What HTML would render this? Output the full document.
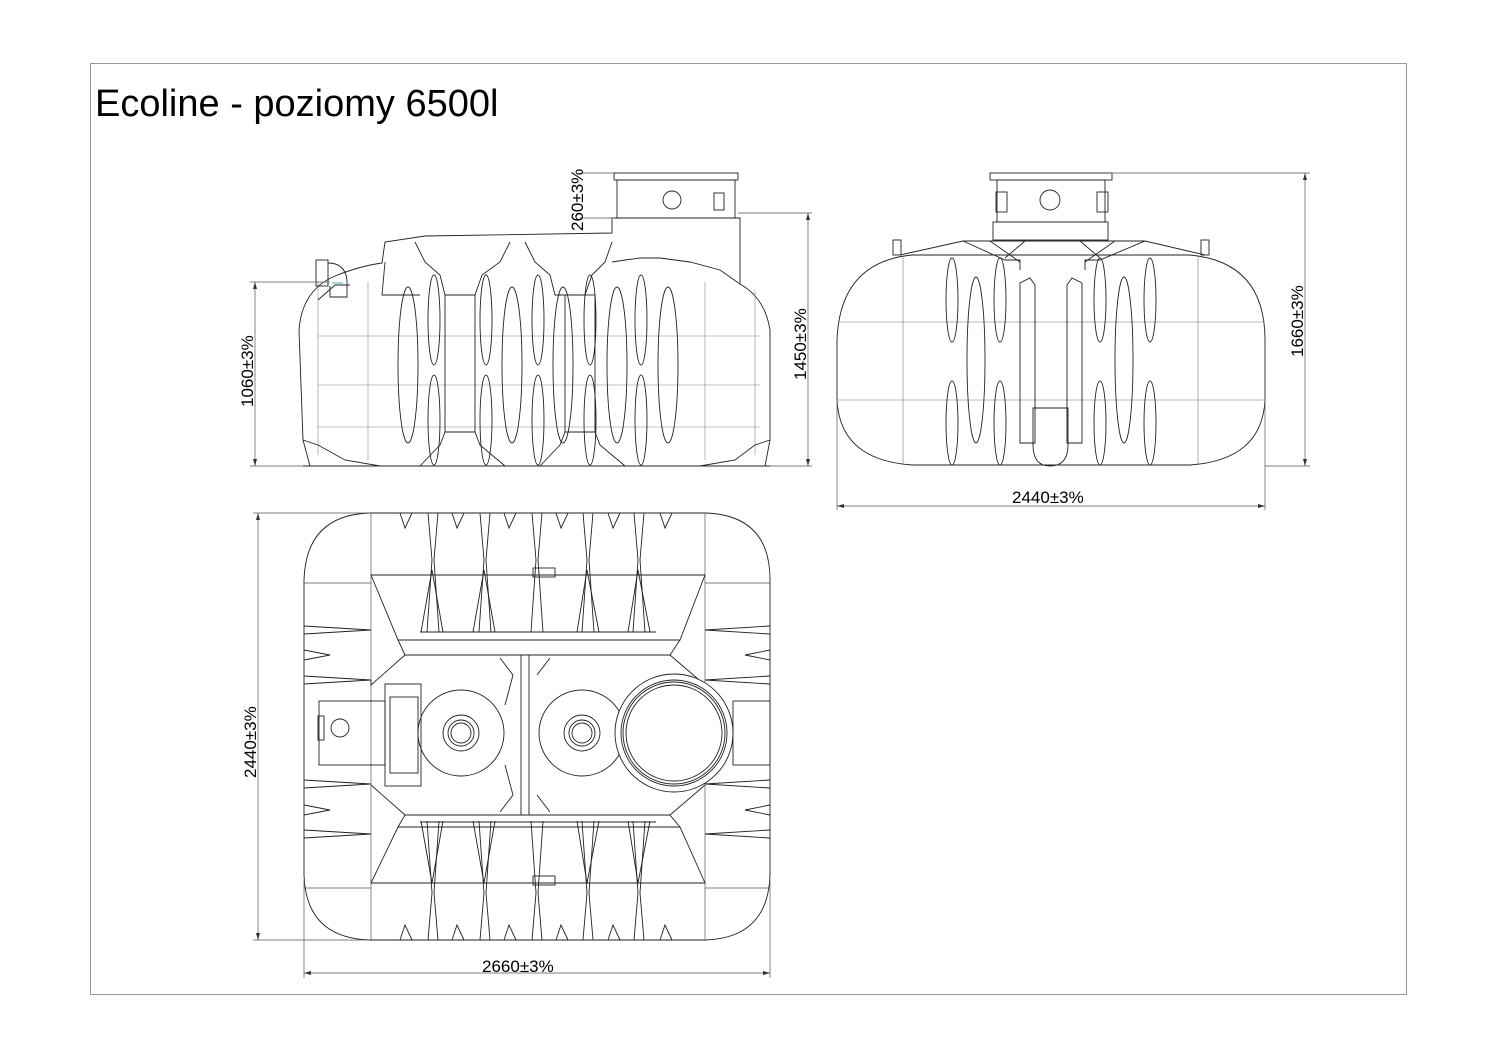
<!DOCTYPE html>
<html><head><meta charset="utf-8"><style>
html,body{margin:0;padding:0;background:#fff}
svg{display:block}
text{font-family:"Liberation Sans",sans-serif;fill:#000}
</style></head><body>
<svg width="1497" height="1058" viewBox="0 0 1497 1058" xmlns="http://www.w3.org/2000/svg">
<rect x="90.5" y="63.5" width="1316" height="931" fill="none" stroke="#999" stroke-width="1"/>
<text x="95" y="116" font-size="38">Ecoline - poziomy 6500l</text>

<g fill="none" stroke="#222" stroke-width="0.9">
<path d="M310,466 L303,440 L299,330 Q302,290 335,276 Q360,266 382,263 L385,242 L425,236 L612,233 L612,218 L740,218 L740,284 Q765,298 770,330 L770,440 L765,466 Z"/>
<line x1="303" y1="466" x2="770" y2="466"/>
<g stroke="#888" stroke-width="0.6">
<line x1="318" y1="336" x2="760" y2="336"/>
<line x1="318" y1="385" x2="760" y2="385"/>
<line x1="318" y1="427" x2="760" y2="427"/>
<line x1="368" y1="282" x2="368" y2="460"/>
<line x1="705" y1="282" x2="705" y2="460"/>
<line x1="318" y1="282" x2="318" y2="455"/>
<line x1="755" y1="290" x2="755" y2="455"/>
</g>
<path d="M385,262 L382,295 L420,295"/>
<path d="M415,242 L425,262 L440,275 L445,295 L475,295 L482,275 L500,262 L510,242"/>
<path d="M525,242 L535,262 L550,275 L555,295 L585,295 L592,275 L605,262 L612,242"/>
<path d="M612,262 L625,260 L640,258 L660,258 L690,262 L720,270 L740,284"/>
<path d="M440,445 L445,432 L475,432 L480,445 L505,466"/>
<path d="M420,466 L440,445"/>
<path d="M540,466 L560,445 L565,432 L595,432 L600,445 L625,466"/>
<rect x="445" y="295" width="30" height="137"/>
<rect x="565" y="295" width="30" height="137"/>
<path d="M318,300 L335,285 L350,285"/>
<path d="M303,440 L318,445 L345,460 L380,466"/>
<path d="M770,440 L755,445 L735,460 L700,466"/>
<g>
<ellipse cx="408" cy="365" rx="10" ry="78"/>
<ellipse cx="512" cy="365" rx="10" ry="78"/>
<ellipse cx="563" cy="365" rx="10" ry="78"/>
<ellipse cx="617" cy="365" rx="10" ry="78"/>
<ellipse cx="668" cy="365" rx="10" ry="78"/>
<ellipse cx="434" cy="320" rx="6" ry="45"/>
<ellipse cx="486" cy="320" rx="6" ry="45"/>
<ellipse cx="538" cy="320" rx="6" ry="45"/>
<ellipse cx="590" cy="320" rx="6" ry="45"/>
<ellipse cx="641" cy="320" rx="6" ry="45"/>
<ellipse cx="434" cy="420" rx="6" ry="45"/>
<ellipse cx="486" cy="420" rx="6" ry="45"/>
<ellipse cx="538" cy="420" rx="6" ry="45"/>
<ellipse cx="590" cy="420" rx="6" ry="45"/>
<ellipse cx="641" cy="420" rx="6" ry="45"/>
</g>
<rect x="617" y="180" width="118" height="38"/>
<rect x="614" y="173" width="124" height="7"/>
<circle cx="672" cy="200" r="9"/>
<rect x="714" y="193" width="10" height="17"/>
<rect x="316" y="260" width="12" height="26"/>
<path d="M328,263 Q345,263 347,280 L347,297 L330,297 L330,286"/>
<line x1="332" y1="283" x2="343" y2="283" stroke="#3aa" />
<g stroke="#555" stroke-width="0.7">
<line x1="250" y1="282" x2="330" y2="282"/>
<line x1="250" y1="466" x2="303" y2="466"/>
<line x1="255" y1="282" x2="255" y2="466"/>
<line x1="738" y1="213" x2="812" y2="213"/>
<line x1="770" y1="466" x2="812" y2="466"/>
<line x1="808" y1="213" x2="808" y2="466"/>
<line x1="580" y1="173" x2="614" y2="173"/>
<line x1="580" y1="218" x2="614" y2="218"/>
</g>

<path d="M912,255 L1190,255 Q1265,262 1265,340 L1265,400 Q1262,460 1190,465 L912,465 Q840,460 837,400 L837,340 Q840,262 912,255 Z"/>
<path d="M900,255 L963,241 L1145,241 L1205,255"/>
<path d="M963,241 L1005,260 L1020,260 L1020,270 M990,241 L1020,262 M1025,241 L1005,258"/>
<path d="M1145,241 L1100,260 L1085,260 L1085,270 M1115,241 L1085,262 M1080,241 L1100,258"/>
<rect x="893" y="240" width="8" height="15"/>
<rect x="1201" y="240" width="8" height="15"/>
<g stroke="#777" stroke-width="0.6">
<line x1="903" y1="256" x2="903" y2="465"/>
<line x1="1198" y1="256" x2="1198" y2="465"/>
<line x1="838" y1="322" x2="1264" y2="322"/>
<line x1="838" y1="400" x2="1264" y2="400"/>
</g>
<rect x="993" y="222" width="115" height="18"/>
<rect x="997" y="180" width="108" height="42"/>
<rect x="990" y="173" width="122" height="7"/>
<circle cx="1050" cy="200" r="10"/>
<rect x="996" y="192" width="11" height="20"/>
<rect x="1097" y="192" width="11" height="20"/>
<ellipse cx="952" cy="300" rx="6" ry="42"/>
<ellipse cx="1000" cy="300" rx="6" ry="42"/>
<ellipse cx="1100" cy="300" rx="6" ry="42"/>
<ellipse cx="1150" cy="300" rx="6" ry="42"/>
<ellipse cx="952" cy="423" rx="6" ry="42"/>
<ellipse cx="1000" cy="423" rx="6" ry="42"/>
<ellipse cx="1100" cy="423" rx="6" ry="42"/>
<ellipse cx="1150" cy="423" rx="6" ry="42"/>
<ellipse cx="976" cy="360" rx="9" ry="83"/>
<ellipse cx="1124" cy="360" rx="9" ry="83"/>
<path d="M1020,283 L1030,278 L1035,285 L1035,443 L1020,443 Z"/>
<path d="M1067,285 L1072,278 L1082,283 L1082,443 L1067,443 Z"/>
<path d="M1033,408 L1068,408 L1068,445 Q1068,466 1050,466 Q1033,466 1033,445 Z"/>
<g stroke="#555" stroke-width="0.7">
<line x1="1110" y1="173" x2="1310" y2="173"/>
<line x1="1265" y1="466" x2="1310" y2="466"/>
<line x1="1305" y1="173" x2="1305" y2="466"/>
<line x1="837" y1="400" x2="837" y2="510"/>
<line x1="1265" y1="400" x2="1265" y2="510"/>
<line x1="837" y1="506" x2="1265" y2="506"/>
</g>

<path d="M370,513 L705,513 Q770,515 770,580 L770,875 Q768,938 705,940 L370,940 Q306,938 304,875 L304,580 Q306,515 370,513 Z"/>
<g stroke="#555" stroke-width="0.7">
<line x1="371" y1="513" x2="371" y2="940"/>
<line x1="705" y1="513" x2="705" y2="940"/>
<line x1="304" y1="583" x2="371" y2="583"/>
<line x1="705" y1="583" x2="770" y2="583"/>
<line x1="304" y1="888" x2="371" y2="888"/>
<line x1="705" y1="888" x2="770" y2="888"/>
</g>
<path d="M371,575 L705,575 L680,640 L398,640 Z"/>
<path d="M371,883 L705,883 L680,827 L398,827 Z"/>
<line x1="420" y1="632" x2="656" y2="632"/>
<line x1="420" y1="822" x2="656" y2="822"/>
<path d="M405,655 L670,655 M405,815 L670,815"/>
<path d="M398,640 L405,655 L371,685 L371,680 M680,640 L670,655 L705,685"/>
<path d="M398,827 L405,815 L371,785 M680,827 L670,815 L705,785"/>
<path d="M521,655 L521,815 M529,655 L529,815"/>
<path d="M500,658 L513,675 L505,705 M500,812 L513,795 L505,765"/>
<path d="M537,675 L550,658 M537,795 L550,812"/>
<circle cx="461" cy="733" r="43"/>
<circle cx="461" cy="733" r="18"/><circle cx="461" cy="733" r="13"/><circle cx="461" cy="733" r="10"/>
<circle cx="582" cy="733" r="43"/>
<circle cx="582" cy="733" r="18"/><circle cx="582" cy="733" r="13"/><circle cx="582" cy="733" r="10"/>
<circle cx="674" cy="733" r="59" fill="#fff"/>
<circle cx="674" cy="733" r="53"/><circle cx="674" cy="733" r="51"/><circle cx="674" cy="733" r="48"/>
<rect x="385" y="684" width="36" height="102"/>
<rect x="390" y="697" width="28" height="76"/>
<rect x="319" y="701" width="66" height="64"/>
<rect x="318" y="716" width="6" height="24"/>
<circle cx="340" cy="728" r="9"/>
<rect x="733" y="701" width="37" height="64"/>
<g>
<path d="M428,513 L432,560 L427,632 M438,513 L434,560 L439,632"/>
<path d="M480,513 L484,560 L479,632 M490,513 L486,560 L491,632"/>
<path d="M532,513 L536,560 L531,632 M542,513 L538,560 L543,632"/>
<path d="M583,513 L587,560 L582,632 M593,513 L589,560 L594,632"/>
<path d="M634,513 L638,560 L633,632 M644,513 L640,560 L645,632"/>
<path d="M400,513 L405,528 L412,513 M452,513 L457,528 L464,513 M504,513 L509,528 L516,513 M556,513 L561,528 L568,513 M608,513 L613,528 L620,513 M660,513 L665,528 L672,513"/>
<path d="M421,632 L432,570 L443,632 M473,632 L484,570 L495,632 M577,632 L587,570 L599,632 M628,632 L638,570 L650,632"/>
</g>
<g transform="translate(0,1453) scale(1,-1)">
<path d="M428,513 L432,560 L427,632 M438,513 L434,560 L439,632"/>
<path d="M480,513 L484,560 L479,632 M490,513 L486,560 L491,632"/>
<path d="M532,513 L536,560 L531,632 M542,513 L538,560 L543,632"/>
<path d="M583,513 L587,560 L582,632 M593,513 L589,560 L594,632"/>
<path d="M634,513 L638,560 L633,632 M644,513 L640,560 L645,632"/>
<path d="M400,513 L405,528 L412,513 M452,513 L457,528 L464,513 M504,513 L509,528 L516,513 M556,513 L561,528 L568,513 M608,513 L613,528 L620,513 M660,513 L665,528 L672,513"/>
<path d="M421,632 L432,570 L443,632 M473,632 L484,570 L495,632 M577,632 L587,570 L599,632 M628,632 L638,570 L650,632"/>
</g>
<rect x="533" y="568" width="22" height="9"/>
<rect x="533" y="876" width="22" height="9"/>
<g>
<path d="M304,626 L371,630 L304,634 M304,676 L371,680 L304,684 M304,780 L371,784 L304,788 M304,830 L371,834 L304,838"/>
<path d="M304,650 L330,655 L304,660 M304,805 L330,810 L304,815"/>
<path d="M770,626 L705,630 L770,634 M770,676 L705,680 L770,684 M770,780 L705,784 L770,788 M770,830 L705,834 L770,838"/>
<path d="M770,650 L745,655 L770,660 M770,805 L745,810 L770,815"/>
</g>
<g stroke="#555" stroke-width="0.7">
<line x1="253" y1="513" x2="370" y2="513"/>
<line x1="253" y1="940" x2="370" y2="940"/>
<line x1="258" y1="513" x2="258" y2="940"/>
<line x1="304" y1="880" x2="304" y2="978"/>
<line x1="770" y1="880" x2="770" y2="978"/>
<line x1="304" y1="973" x2="770" y2="973"/>
</g>
</g>
<g fill="#333">
<path d="M255,282 l-2,7 l4,0 Z"/><path d="M255,466 l-2,-7 l4,0 Z"/>
<path d="M808,213 l-2,7 l4,0 Z"/><path d="M808,466 l-2,-7 l4,0 Z"/>
<path d="M1305,173 l-2,7 l4,0 Z"/><path d="M1305,466 l-2,-7 l4,0 Z"/>
<path d="M837,506 l7,-2 l0,4 Z"/><path d="M1265,506 l-7,-2 l0,4 Z"/>
<path d="M258,513 l-2,7 l4,0 Z"/><path d="M258,940 l-2,-7 l4,0 Z"/>
<path d="M304,973 l7,-2 l0,4 Z"/><path d="M770,973 l-7,-2 l0,4 Z"/>
</g>
<g font-size="17">
<text transform="translate(253,407) rotate(-90)">1060±3%</text>
<text transform="translate(806,380) rotate(-90)">1450±3%</text>
<text transform="translate(583,231) rotate(-90)">260±3%</text>
<text transform="translate(1303,357) rotate(-90)">1660±3%</text>
<text x="1012" y="503">2440±3%</text>
<text transform="translate(256,778) rotate(-90)">2440±3%</text>
<text x="482" y="972">2660±3%</text>
</g>
</svg>
</body></html>
